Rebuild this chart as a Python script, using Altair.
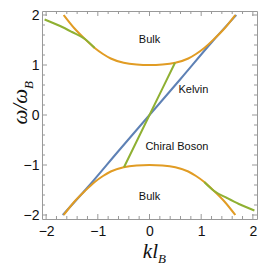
import altair as alt
import pandas as pd

# ---- data ----
k_bulk = [-1.66, -1.45, -1.25, -1.06, -0.9, -0.75, -0.5, -0.25, 0.0, 0.25, 0.5, 0.75, 0.9, 1.06, 1.25, 1.45, 1.66]
w_bulk_upper = [2.0, 1.73, 1.52, 1.34, 1.22, 1.13, 1.045, 1.01, 1.0, 1.01, 1.045, 1.13, 1.22, 1.34, 1.52, 1.73, 2.0]
w_bulk_lower = [-2.0, -1.73, -1.52, -1.34, -1.22, -1.13, -1.045, -1.01, -1.0, -1.01, -1.045, -1.13, -1.22, -1.34, -1.52, -1.73, -2.0]

k_kelvin = [-1.68, -1.2, -0.6, 0.0, 0.6, 1.2, 1.68]
w_kelvin = [-2.0, -1.45, -0.72, 0.0, 0.72, 1.45, 2.0]

k_chiral_a = [-2.03, -1.73, -1.5, -1.25, -1.06]
w_chiral_a = [1.91, 1.78, 1.66, 1.52, 1.34]
k_chiral_b = [-0.494, 0.0, 0.494]
w_chiral_b = [-1.045, 0.0, 1.045]
k_chiral_c = [1.06, 1.25, 1.5, 1.73, 2.03]
w_chiral_c = [-1.34, -1.52, -1.66, -1.78, -1.91]

label_text = ["Bulk", "Kelvin", "Chiral Boson", "Bulk"]
label_k = [0.0, 0.85, 0.53, 0.0]
label_w = [1.5, 0.51, -0.64, -1.64]

major_ticks = [-2, -1, 0, 1, 2]
minor_ticks = [-1.8, -1.6, -1.4, -1.2, -0.8, -0.6, -0.4, -0.2,
               0.2, 0.4, 0.6, 0.8, 1.2, 1.4, 1.6, 1.8]

# ---- layout ----
W, H = 215, 208
dom = [-2.08, 2.08]
BLUE, ORANGE, GREEN = "#5E81B5", "#E19C24", "#8FB032"
FRAME = "#999999"

xs = alt.Scale(domain=dom, nice=False, zero=False)
ys = alt.Scale(domain=dom, nice=False, zero=False)

x_axis = alt.Axis(values=major_ticks, ticks=False, domain=False, grid=False,
                  labelFontSize=14, labelFont="Liberation Sans", labelColor="#111",
                  labelPadding=5, title=None, format="d")
y_axis = alt.Axis(values=major_ticks, ticks=False, domain=False, grid=False,
                  labelFontSize=14, labelFont="Liberation Sans", labelColor="#111",
                  labelPadding=3, title=None, format="d")

X = lambda f: alt.X(f, scale=xs, axis=x_axis)
Y = lambda f: alt.Y(f, scale=ys, axis=y_axis)

kelvin_df = pd.DataFrame({"k": k_kelvin, "w": w_kelvin})
bulk_df = pd.concat([
    pd.DataFrame({"k": k_bulk, "w": w_bulk_upper, "band": "upper"}),
    pd.DataFrame({"k": k_bulk, "w": w_bulk_lower, "band": "lower"}),
])
chiral_df = pd.concat([
    pd.DataFrame({"k": k_chiral_a, "w": w_chiral_a, "seg": "a"}),
    pd.DataFrame({"k": k_chiral_b, "w": w_chiral_b, "seg": "b"}),
    pd.DataFrame({"k": k_chiral_c, "w": w_chiral_c, "seg": "c"}),
])
labels_df = pd.DataFrame({"k": label_k, "w": label_w, "t": label_text})

kelvin = alt.Chart(kelvin_df).mark_line(color=BLUE, strokeWidth=2, interpolate="monotone").encode(
    x=X("k:Q"), y=Y("w:Q"), order="k:Q",
)
bulk = alt.Chart(bulk_df).mark_line(color=ORANGE, strokeWidth=2, interpolate="monotone").encode(
    x=X("k:Q"), y=Y("w:Q"), detail="band:N", order="k:Q",
)
chiral = alt.Chart(chiral_df).mark_line(color=GREEN, strokeWidth=2, interpolate="monotone").encode(
    x=X("k:Q"), y=Y("w:Q"), detail="seg:N", order="k:Q",
)
texts = alt.Chart(labels_df).mark_text(font="Liberation Sans", fontSize=11, color="#111",
                                       align="center", baseline="middle").encode(
    x=X("k:Q"), y=Y("w:Q"), text="t:N",
)


def ticks(values, length):
    df = pd.DataFrame({"k": values, "w": values})
    base = alt.Chart(df).mark_rule(color=FRAME, strokeWidth=1)
    bottom = base.encode(x=X("k:Q"), y=alt.value(H), y2=alt.value(H - length))
    top = base.encode(x=X("k:Q"), y=alt.value(0), y2=alt.value(length))
    left = base.encode(y=Y("w:Q"), x=alt.value(0), x2=alt.value(length))
    right = base.encode(y=Y("w:Q"), x=alt.value(W), x2=alt.value(W - length))
    return [bottom, top, left, right]


serif = dict(font="Liberation Serif", fontStyle="italic", color="#111")
one = pd.DataFrame({"a": [0]})
x_title_main = alt.Chart(one).mark_text(text="kl", fontSize=21, align="right",
                                        baseline="alphabetic", **serif).encode(
    x=alt.value(116), y=alt.value(247))
x_title_sub = alt.Chart(one).mark_text(text="B", fontSize=13, align="left",
                                       baseline="alphabetic", **serif).encode(
    x=alt.value(116), y=alt.value(252))
y_title_main = alt.Chart(one).mark_text(text="ω/ω", fontSize=21, align="right", angle=270,
                                        baseline="alphabetic", **serif).encode(
    x=alt.value(-15), y=alt.value(78))
y_title_sub = alt.Chart(one).mark_text(text="B", fontSize=13, align="left", angle=270,
                                       baseline="alphabetic", **serif).encode(
    x=alt.value(-9), y=alt.value(78))

layers = [kelvin, bulk, chiral, texts] + ticks(major_ticks, 5) + ticks(minor_ticks, 3) + [
    x_title_main, x_title_sub, y_title_main, y_title_sub]

chart = alt.layer(*layers).properties(
    width=W, height=H,
    autosize=alt.AutoSizeParams(type="none"),
    padding={"left": 34, "top": 3, "right": 2, "bottom": 47},
).configure_view(stroke=FRAME, strokeWidth=1)

chart.save("out.html", embed_options={"renderer": "svg", "actions": False})
